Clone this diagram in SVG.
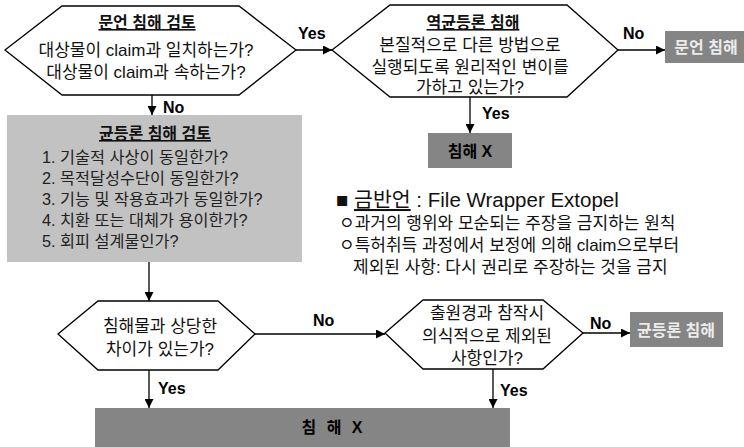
<svg xmlns="http://www.w3.org/2000/svg" width="744" height="447" viewBox="0 0 744 447">
<style>
.hex{fill:#fff;stroke:#000;stroke-width:1.3}
.t{font-family:"Liberation Sans","Noto Sans CJK KR",sans-serif;font-size:17px;fill:#111;text-anchor:middle}
.tl{font-family:"Liberation Sans","Noto Sans CJK KR",sans-serif;font-size:16.3px;fill:#222}
.lg{font-family:"Liberation Sans","Noto Sans CJK KR",sans-serif;font-size:17px;fill:#111}
.ttl{font-weight:bold;text-decoration:underline}
.lbl{font-family:"Liberation Sans",sans-serif;font-size:16px;font-weight:bold;fill:#000}
.dk{fill:#858585}
.lt{fill:#c2c2c2}
.bt{font-family:"Liberation Sans","Noto Sans CJK KR",sans-serif;font-size:16px;font-weight:bold;text-anchor:middle}
.conn line{stroke:#000;stroke-width:1.3;marker-end:url(#ah)}
</style>
<defs>
<marker id="ah" viewBox="0 0 10 10" refX="10" refY="5" markerWidth="9" markerHeight="9" markerUnits="userSpaceOnUse" orient="auto">
<path d="M0,0 L10,5 L0,10 Z" fill="#000"/>
</marker>
</defs>
<rect width="744" height="447" fill="#fff"/>

<g id="n1">
<polygon class="hex" points="5,50 62,6 239,6 296,50 239,95 62,95"/>
<text class="t ttl" x="147" y="28" style="font-size:16px">문언 침해 검토</text>
<text class="t" x="146" y="56">대상물이 claim과 일치하는가?</text>
<text class="t" x="146" y="78">대상물이 claim과 속하는가?</text>
</g>

<g id="n2">
<polygon class="hex" points="332,50 390,5 567,5 618,50 567,97 390,97"/>
<text class="t ttl" x="473" y="28" style="font-size:16px">역균등론 침해</text>
<text class="t" x="470" y="51">본질적으로 다른 방법으로</text>
<text class="t" x="470" y="73">실행되도록 원리적인 변이를</text>
<text class="t" x="470" y="93">가하고 있는가?</text>
</g>

<g id="n3">
<rect class="dk" x="665" y="31" width="79" height="32"/>
<text class="bt" x="706" y="53" fill="#ececec">문언 침해</text>
</g>

<g id="n4">
<rect class="dk" x="428" y="133" width="84" height="35"/>
<text class="bt" x="470" y="157" fill="#000">침해 X</text>
</g>

<g id="n5">
<rect class="lt" x="7" y="115" width="295" height="147"/>
<text class="t ttl" x="155" y="139" fill="#222" style="font-size:16px">균등론 침해 검토</text>
<text class="tl" x="42" y="163">1. 기술적 사상이 동일한가?</text>
<text class="tl" x="42" y="184">2. 목적달성수단이 동일한가?</text>
<text class="tl" x="42" y="205">3. 기능 및 작용효과가 동일한가?</text>
<text class="tl" x="42" y="226">4. 치환 또는 대체가 용이한가?</text>
<text class="tl" x="42" y="247">5. 회피 설계물인가?</text>
</g>

<g id="legend">
<text class="lg" x="336" y="207" style="font-size:20.5px"><tspan>■ </tspan><tspan style="text-decoration:underline">금반언</tspan><tspan> : File Wrapper Extopel</tspan></text>
<text class="lg" x="339" y="229">ㅇ과거의 행위와 모순되는 주장을 금지하는 원칙</text>
<text class="lg" x="339" y="251">ㅇ특허취득 과정에서 보정에 의해 claim으로부터</text>
<text class="lg" x="353" y="273">제외된 사항: 다시 권리로 주장하는 것을 금지</text>
</g>

<g id="n6">
<polygon class="hex" points="58,334 98,301 218,301 255,334 218,370 98,370"/>
<text class="t" x="160" y="332">침해물과 상당한</text>
<text class="t" x="160" y="355">차이가 있는가?</text>
</g>

<g id="n7">
<polygon class="hex" points="385,333 423,300 543,300 583,333 543,369 423,369"/>
<text class="t" x="487" y="319">출원경과 참작시</text>
<text class="t" x="487" y="342">의식적으로 제외된</text>
<text class="t" x="487" y="364">사항인가?</text>
</g>

<g id="n8">
<rect class="dk" x="630" y="312" width="93" height="35"/>
<text class="bt" x="676" y="336" fill="#ececec">균등론 침해</text>
</g>

<g id="n9">
<rect class="dk" x="95" y="408" width="415" height="39"/>
<text class="bt" x="332" y="433" fill="#000" style="word-spacing:6px">침 해 X</text>
</g>

<g id="connectors" class="conn">
<line x1="296" y1="50" x2="332" y2="50"/>
<line x1="618" y1="50" x2="665" y2="50"/>
<line x1="470" y1="97" x2="470" y2="133"/>
<line x1="152" y1="95" x2="152" y2="115"/>
<line x1="149" y1="262" x2="149" y2="301"/>
<line x1="255" y1="334" x2="385" y2="334"/>
<line x1="583" y1="333" x2="630" y2="333"/>
<line x1="149" y1="370" x2="149" y2="408"/>
<line x1="493" y1="369" x2="493" y2="408"/>
</g>

<g id="labels">
<text class="lbl" x="298" y="39">Yes</text>
<text class="lbl" x="623" y="39">No</text>
<text class="lbl" x="482" y="119">Yes</text>
<text class="lbl" x="163" y="113">No</text>
<text class="lbl" x="313" y="326">No</text>
<text class="lbl" x="590" y="329">No</text>
<text class="lbl" x="158" y="394">Yes</text>
<text class="lbl" x="500" y="396">Yes</text>
</g>
</svg>
